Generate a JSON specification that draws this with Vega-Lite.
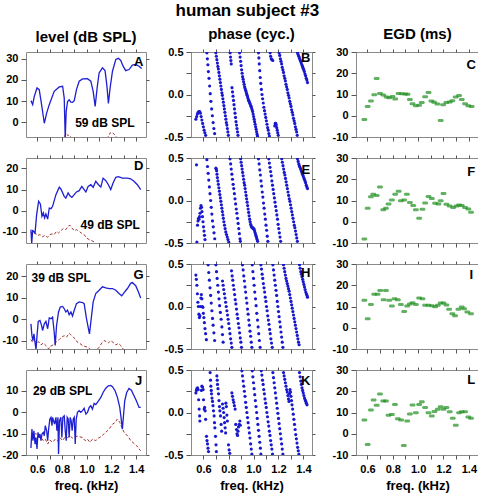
{
"$schema":"https://vega.github.io/schema/vega-lite/v6.json",
"padding":{"left":1,"right":0,"top":1,"bottom":0},
"title":{"text":"human subject #3","fontSize":17,"fontWeight":"bold","font":"Liberation Sans","anchor":"middle","offset":7,"dx":5},
"columns":3,
"spacing":{"row":21,"column":42},
"bounds":"flush",
"align":"all",
"datasets":{
"Ab":[{"f":0.550,"v":10.2},{"f":0.564,"v":8.3},{"f":0.577,"v":12.2},{"f":0.599,"v":16.2},{"f":0.617,"v":15.4},{"f":0.636,"v":8.3},{"f":0.658,"v":-0.5},{"f":0.677,"v":4.3},{"f":0.698,"v":8.3},{"f":0.738,"v":14.6},{"f":0.779,"v":16.7},{"f":0.806,"v":17.0},{"f":0.819,"v":11.4},{"f":0.827,"v":-7.5},{"f":0.835,"v":5.1},{"f":0.846,"v":9.8},{"f":0.859,"v":10.6},{"f":0.873,"v":9.5},{"f":0.886,"v":9.4},{"f":0.900,"v":10.2},{"f":0.918,"v":15.4},{"f":0.940,"v":19.4},{"f":0.967,"v":20.5},{"f":1.007,"v":20.6},{"f":1.034,"v":19.4},{"f":1.053,"v":14.6},{"f":1.069,"v":7.5},{"f":1.085,"v":16.2},{"f":1.101,"v":23.3},{"f":1.128,"v":25.7},{"f":1.149,"v":24.4},{"f":1.163,"v":17.8},{"f":1.176,"v":8.9},{"f":1.190,"v":16.2},{"f":1.209,"v":24.1},{"f":1.236,"v":29.7},{"f":1.257,"v":30.2},{"f":1.276,"v":29.2},{"f":1.295,"v":26.5},{"f":1.316,"v":24.4},{"f":1.343,"v":24.9},{"f":1.370,"v":27.0},{"f":1.397,"v":27.3},{"f":1.424,"v":26.5},{"f":1.445,"v":25.4}],
"Ar":[{"f":0.550,"v":-12},{"f":0.600,"v":-14},{"f":0.650,"v":-13},{"f":0.700,"v":-15},{"f":0.750,"v":-12},{"f":0.800,"v":-10},{"f":0.822,"v":-7.5},{"f":0.830,"v":-5.3},{"f":0.840,"v":-5.8},{"f":0.850,"v":-6.3},{"f":0.860,"v":-6.0},{"f":0.870,"v":-6.8},{"f":0.880,"v":-7.5},{"f":0.900,"v":-9},{"f":0.950,"v":-13},{"f":1.000,"v":-12},{"f":1.050,"v":-14},{"f":1.100,"v":-11},{"f":1.150,"v":-9},{"f":1.170,"v":-7.2},{"f":1.180,"v":-6.3},{"f":1.190,"v":-5.0},{"f":1.200,"v":-5.4},{"f":1.210,"v":-5.0},{"f":1.220,"v":-5.6},{"f":1.235,"v":-6.5},{"f":1.250,"v":-7.5},{"f":1.300,"v":-11},{"f":1.350,"v":-13},{"f":1.400,"v":-12},{"f":1.445,"v":-14}],
"Db":[{"f":0.550,"v":-8.9},{"f":0.556,"v":-15.5},{"f":0.564,"v":-9.4},{"f":0.572,"v":-9.7},{"f":0.583,"v":-10.5},{"f":0.596,"v":-1.8},{"f":0.612,"v":4.5},{"f":0.626,"v":3.2},{"f":0.639,"v":-2.6},{"f":0.650,"v":-1.0},{"f":0.660,"v":-3.4},{"f":0.671,"v":-1.5},{"f":0.685,"v":-3.9},{"f":0.698,"v":1.3},{"f":0.712,"v":1.0},{"f":0.725,"v":2.1},{"f":0.752,"v":7.6},{"f":0.779,"v":11.1},{"f":0.792,"v":10.3},{"f":0.819,"v":6.8},{"f":0.832,"v":6.0},{"f":0.851,"v":8.4},{"f":0.865,"v":7.1},{"f":0.881,"v":6.3},{"f":0.900,"v":7.6},{"f":0.918,"v":8.9},{"f":0.940,"v":9.5},{"f":0.961,"v":11.5},{"f":0.980,"v":10.0},{"f":0.994,"v":8.9},{"f":1.012,"v":11.5},{"f":1.034,"v":12.3},{"f":1.053,"v":11.1},{"f":1.074,"v":13.9},{"f":1.096,"v":12.3},{"f":1.115,"v":11.2},{"f":1.133,"v":15.4},{"f":1.155,"v":14.2},{"f":1.176,"v":12.3},{"f":1.195,"v":10.0},{"f":1.214,"v":13.1},{"f":1.236,"v":15.8},{"f":1.257,"v":16.1},{"f":1.289,"v":15.4},{"f":1.330,"v":15.4},{"f":1.356,"v":15.1},{"f":1.383,"v":13.9},{"f":1.410,"v":12.3},{"f":1.437,"v":10.0}],
"Dr":[{"f":0.550,"v":-10.0},{"f":0.564,"v":-11.2},{"f":0.585,"v":-10.5},{"f":0.604,"v":-11.7},{"f":0.623,"v":-11.2},{"f":0.644,"v":-12.3},{"f":0.663,"v":-11.6},{"f":0.685,"v":-12.5},{"f":0.703,"v":-11.2},{"f":0.725,"v":-10.9},{"f":0.738,"v":-11.2},{"f":0.757,"v":-9.7},{"f":0.773,"v":-10.5},{"f":0.792,"v":-9.4},{"f":0.811,"v":-8.4},{"f":0.832,"v":-8.9},{"f":0.851,"v":-7.3},{"f":0.865,"v":-6.8},{"f":0.881,"v":-8.1},{"f":0.900,"v":-9.4},{"f":0.918,"v":-8.9},{"f":0.940,"v":-9.7},{"f":0.959,"v":-10.6},{"f":0.980,"v":-11.2},{"f":0.999,"v":-12.8},{"f":1.021,"v":-13.6},{"f":1.042,"v":-14.1},{"f":1.061,"v":-14.7},{"f":1.074,"v":-15.6},{"f":1.150,"v":-18},{"f":1.250,"v":-20},{"f":1.350,"v":-19},{"f":1.445,"v":-21}],
"Gb":[{"f":0.550,"v":-2.2},{"f":0.558,"v":-7.7},{"f":0.566,"v":-10.0},{"f":0.574,"v":-6.9},{"f":0.583,"v":-10.8},{"f":0.591,"v":-14.2},{"f":0.599,"v":-7.7},{"f":0.609,"v":-1.1},{"f":0.623,"v":-0.6},{"f":0.636,"v":-3.0},{"f":0.644,"v":-5.3},{"f":0.658,"v":-2.2},{"f":0.671,"v":-1.1},{"f":0.685,"v":-4.5},{"f":0.698,"v":0.5},{"f":0.712,"v":0.2},{"f":0.725,"v":0.9},{"f":0.738,"v":-6.1},{"f":0.746,"v":-12.3},{"f":0.757,"v":-3.0},{"f":0.773,"v":3.3},{"f":0.787,"v":5.6},{"f":0.806,"v":5.9},{"f":0.819,"v":4.8},{"f":0.832,"v":3.3},{"f":0.846,"v":4.1},{"f":0.859,"v":2.0},{"f":0.873,"v":3.3},{"f":0.886,"v":1.4},{"f":0.900,"v":4.1},{"f":0.918,"v":7.2},{"f":0.940,"v":8.0},{"f":0.967,"v":7.7},{"f":0.980,"v":7.2},{"f":0.999,"v":0.2},{"f":1.015,"v":-4.5},{"f":1.023,"v":-6.9},{"f":1.034,"v":-1.4},{"f":1.053,"v":8.0},{"f":1.074,"v":11.9},{"f":1.101,"v":13.4},{"f":1.128,"v":15.0},{"f":1.155,"v":14.5},{"f":1.182,"v":14.2},{"f":1.209,"v":14.2},{"f":1.236,"v":13.4},{"f":1.262,"v":11.9},{"f":1.284,"v":10.8},{"f":1.303,"v":12.3},{"f":1.330,"v":14.2},{"f":1.356,"v":16.6},{"f":1.370,"v":17.0},{"f":1.397,"v":15.5},{"f":1.418,"v":12.7},{"f":1.437,"v":9.8}],
"Gr":[{"f":0.550,"v":-9.5},{"f":0.564,"v":-10.8},{"f":0.577,"v":-10.0},{"f":0.596,"v":-11.1},{"f":0.612,"v":-10.5},{"f":0.631,"v":-12.0},{"f":0.650,"v":-11.1},{"f":0.671,"v":-12.3},{"f":0.693,"v":-13.9},{"f":0.703,"v":-12.7},{"f":0.720,"v":-12.3},{"f":0.738,"v":-11.6},{"f":0.757,"v":-10.5},{"f":0.779,"v":-9.5},{"f":0.798,"v":-8.4},{"f":0.819,"v":-7.7},{"f":0.838,"v":-8.4},{"f":0.859,"v":-6.6},{"f":0.873,"v":-7.3},{"f":0.892,"v":-8.4},{"f":0.908,"v":-9.2},{"f":0.926,"v":-10.8},{"f":0.945,"v":-11.3},{"f":0.967,"v":-12.3},{"f":0.988,"v":-12.7},{"f":1.007,"v":-13.1},{"f":1.034,"v":-14.2},{"f":1.061,"v":-14.8},{"f":1.088,"v":-13.9},{"f":1.101,"v":-13.1},{"f":1.123,"v":-11.1},{"f":1.141,"v":-10.0},{"f":1.160,"v":-10.5},{"f":1.176,"v":-11.1},{"f":1.195,"v":-10.0},{"f":1.214,"v":-10.8},{"f":1.236,"v":-12.0},{"f":1.257,"v":-11.3},{"f":1.276,"v":-12.3},{"f":1.289,"v":-13.6},{"f":1.316,"v":-14.7},{"f":1.356,"v":-15.5},{"f":1.397,"v":-15.2},{"f":1.445,"v":-15.8}],
"Jb":[{"f":0.550,"v":-16.7},{"f":0.558,"v":-7.9},{"f":0.566,"v":-13.3},{"f":0.574,"v":-8.7},{"f":0.583,"v":-14.9},{"f":0.591,"v":-11.8},{"f":0.599,"v":-17.2},{"f":0.607,"v":-9.4},{"f":0.615,"v":-11.8},{"f":0.623,"v":-10.2},{"f":0.631,"v":-13.3},{"f":0.639,"v":-10.2},{"f":0.650,"v":-9.4},{"f":0.658,"v":-11.0},{"f":0.666,"v":-6.3},{"f":0.677,"v":-8.7},{"f":0.685,"v":-13.3},{"f":0.693,"v":-7.9},{"f":0.703,"v":-3.2},{"f":0.712,"v":-2.4},{"f":0.720,"v":-6.3},{"f":0.725,"v":-2.4},{"f":0.733,"v":-4.0},{"f":0.741,"v":-5.6},{"f":0.752,"v":-2.4},{"f":0.760,"v":-8.7},{"f":0.768,"v":-2.4},{"f":0.773,"v":-19.5},{"f":0.781,"v":-4.0},{"f":0.792,"v":-2.4},{"f":0.800,"v":-11.8},{"f":0.808,"v":-2.4},{"f":0.819,"v":-1.7},{"f":0.827,"v":-8.7},{"f":0.835,"v":-13.3},{"f":0.843,"v":-2.4},{"f":0.851,"v":-3.2},{"f":0.859,"v":-11.8},{"f":0.867,"v":-2.4},{"f":0.875,"v":-4.0},{"f":0.883,"v":-8.7},{"f":0.892,"v":-3.2},{"f":0.900,"v":-2.4},{"f":0.908,"v":-14.9},{"f":0.916,"v":-3.2},{"f":0.926,"v":-0.1},{"f":0.940,"v":0.7},{"f":0.953,"v":-0.1},{"f":0.967,"v":0.7},{"f":0.980,"v":1.8},{"f":0.994,"v":-0.9},{"f":1.007,"v":-0.1},{"f":1.021,"v":2.2},{"f":1.034,"v":3.0},{"f":1.047,"v":1.4},{"f":1.061,"v":4.1},{"f":1.074,"v":3.5},{"f":1.096,"v":5.3},{"f":1.115,"v":6.9},{"f":1.133,"v":9.2},{"f":1.155,"v":11.2},{"f":1.176,"v":12.3},{"f":1.195,"v":12.5},{"f":1.209,"v":11.9},{"f":1.230,"v":10.0},{"f":1.249,"v":6.9},{"f":1.268,"v":2.2},{"f":1.278,"v":-2.4},{"f":1.289,"v":-7.9},{"f":1.297,"v":-2.4},{"f":1.308,"v":5.3},{"f":1.324,"v":9.2},{"f":1.343,"v":11.1},{"f":1.362,"v":10.3},{"f":1.383,"v":7.7},{"f":1.402,"v":5.3},{"f":1.424,"v":2.2},{"f":1.437,"v":2.2}],
"Jr":[{"f":0.550,"v":-10.2},{"f":0.569,"v":-11.0},{"f":0.591,"v":-9.9},{"f":0.612,"v":-11.8},{"f":0.631,"v":-11.8},{"f":0.650,"v":-13.3},{"f":0.666,"v":-12.6},{"f":0.685,"v":-14.9},{"f":0.703,"v":-13.0},{"f":0.725,"v":-14.1},{"f":0.746,"v":-12.6},{"f":0.765,"v":-13.3},{"f":0.784,"v":-11.8},{"f":0.806,"v":-13.3},{"f":0.827,"v":-11.5},{"f":0.846,"v":-11.8},{"f":0.865,"v":-11.0},{"f":0.886,"v":-12.1},{"f":0.908,"v":-11.5},{"f":0.926,"v":-11.2},{"f":0.945,"v":-11.5},{"f":0.967,"v":-11.8},{"f":0.988,"v":-13.3},{"f":1.007,"v":-12.6},{"f":1.026,"v":-14.1},{"f":1.047,"v":-12.6},{"f":1.074,"v":-13.3},{"f":1.096,"v":-12.1},{"f":1.115,"v":-11.5},{"f":1.133,"v":-10.5},{"f":1.155,"v":-9.4},{"f":1.182,"v":-7.9},{"f":1.209,"v":-5.6},{"f":1.230,"v":-4.8},{"f":1.249,"v":-3.2},{"f":1.268,"v":-4.8},{"f":1.284,"v":-7.1},{"f":1.303,"v":-9.4},{"f":1.316,"v":-10.2},{"f":1.338,"v":-11.5},{"f":1.356,"v":-13.3},{"f":1.383,"v":-14.6},{"f":1.405,"v":-15.7},{"f":1.424,"v":-17.2},{"f":1.437,"v":-18.0}],
"B":[{"f":0.539,"v":-0.29},{"f":0.545,"v":-0.26},{"f":0.551,"v":-0.23},{"f":0.557,"v":-0.21},{"f":0.563,"v":-0.2},{"f":0.569,"v":-0.2},{"f":0.575,"v":-0.22},{"f":0.581,"v":-0.26},{"f":0.587,"v":-0.3},{"f":0.593,"v":-0.34},{"f":0.599,"v":-0.38},{"f":0.605,"v":-0.42},{"f":0.611,"v":-0.45},{"f":0.617,"v":-0.48},
{"f":0.627,"v":0.49},{"f":0.631,"v":0.42},{"f":0.635,"v":0.35},{"f":0.639,"v":0.27},{"f":0.644,"v":0.19},{"f":0.649,"v":0.1},{"f":0.654,"v":0.01},{"f":0.659,"v":-0.08},{"f":0.665,"v":-0.17},{"f":0.671,"v":-0.25},{"f":0.677,"v":-0.33},{"f":0.683,"v":-0.4},{"f":0.689,"v":-0.46},
{"f":0.699,"v":0.49},{"f":0.703,"v":0.45},{"f":0.707,"v":0.41},{"f":0.711,"v":0.37},{"f":0.715,"v":0.33},{"f":0.719,"v":0.3},{"f":0.723,"v":0.26},{"f":0.727,"v":0.22},{"f":0.731,"v":0.18},{"f":0.735,"v":0.14},{"f":0.739,"v":0.1},{"f":0.743,"v":0.06},{"f":0.747,"v":0.02},{"f":0.751,"v":-0.01},{"f":0.755,"v":-0.05},{"f":0.759,"v":-0.09},{"f":0.763,"v":-0.13},{"f":0.767,"v":-0.17},{"f":0.771,"v":-0.21},{"f":0.775,"v":-0.25},{"f":0.779,"v":-0.29},{"f":0.783,"v":-0.33},{"f":0.787,"v":-0.36},{"f":0.791,"v":-0.4},{"f":0.795,"v":-0.44},{"f":0.799,"v":-0.48},
{"f":0.813,"v":0.49},{"f":0.816,"v":0.44},{"f":0.819,"v":0.4},{"f":0.822,"v":0.36},{"f":0.828,"v":0.08},{"f":0.832,"v":0.03},{"f":0.836,"v":-0.02},{"f":0.84,"v":-0.07},{"f":0.844,"v":-0.12},{"f":0.848,"v":-0.17},{"f":0.852,"v":-0.22},{"f":0.856,"v":-0.27},{"f":0.86,"v":-0.32},{"f":0.864,"v":-0.36},{"f":0.868,"v":-0.4},{"f":0.872,"v":-0.44},{"f":0.876,"v":-0.48},
{"f":0.889,"v":0.49},{"f":0.893,"v":0.44},{"f":0.897,"v":0.39},{"f":0.901,"v":0.34},{"f":0.905,"v":0.29},{"f":0.909,"v":0.25},{"f":0.913,"v":0.21},{"f":0.917,"v":0.18},{"f":0.921,"v":0.15},{"f":0.925,"v":0.12},{"f":0.929,"v":0.09},{"f":0.933,"v":0.07},{"f":0.937,"v":0.05},{"f":0.941,"v":0.03},{"f":0.945,"v":0.01},{"f":0.949,"v":-0.01},{"f":0.953,"v":-0.03},{"f":0.957,"v":-0.05},{"f":0.961,"v":-0.07},{"f":0.965,"v":-0.08},{"f":0.969,"v":-0.1},{"f":0.973,"v":-0.11},{"f":0.977,"v":-0.13},{"f":0.981,"v":-0.14},{"f":0.985,"v":-0.16},{"f":0.989,"v":-0.18},{"f":0.993,"v":-0.2},{"f":0.997,"v":-0.23},{"f":1.001,"v":-0.26},{"f":1.005,"v":-0.29},{"f":1.009,"v":-0.32},{"f":1.013,"v":-0.35},{"f":1.017,"v":-0.38},{"f":1.021,"v":-0.41},{"f":1.025,"v":-0.44},{"f":1.029,"v":-0.47},{"f":1.032,"v":-0.49},
{"f":1.04,"v":0.49},{"f":1.043,"v":0.43},{"f":1.046,"v":0.36},{"f":1.05,"v":0.28},{"f":1.054,"v":0.2},{"f":1.058,"v":0.13},{"f":1.063,"v":0.06},{"f":1.068,"v":0.0},{"f":1.073,"v":-0.05},{"f":1.078,"v":-0.1},{"f":1.083,"v":-0.15},{"f":1.088,"v":-0.19},{"f":1.093,"v":-0.23},{"f":1.098,"v":-0.27},{"f":1.103,"v":-0.31},{"f":1.108,"v":-0.35},{"f":1.113,"v":-0.39},{"f":1.118,"v":-0.42},{"f":1.123,"v":-0.46},{"f":1.127,"v":-0.49},
{"f":1.133,"v":0.49},{"f":1.137,"v":0.45},{"f":1.142,"v":0.42},{"f":1.148,"v":0.41},{"f":1.154,"v":0.4},
{"f":1.17,"v":-0.37},{"f":1.174,"v":-0.34},{"f":1.178,"v":-0.34},{"f":1.182,"v":-0.36},{"f":1.186,"v":-0.39},{"f":1.19,"v":-0.42},{"f":1.194,"v":-0.45},{"f":1.198,"v":-0.48},
{"f":1.205,"v":0.49},{"f":1.21,"v":0.46},{"f":1.215,"v":0.42},{"f":1.22,"v":0.39},{"f":1.225,"v":0.36},{"f":1.23,"v":0.32},{"f":1.235,"v":0.29},{"f":1.24,"v":0.26},{"f":1.245,"v":0.22},{"f":1.25,"v":0.19},{"f":1.255,"v":0.16},{"f":1.26,"v":0.12},{"f":1.265,"v":0.09},{"f":1.27,"v":0.06},{"f":1.275,"v":0.02},{"f":1.28,"v":-0.01},{"f":1.285,"v":-0.04},{"f":1.29,"v":-0.08},{"f":1.295,"v":-0.11},{"f":1.3,"v":-0.14},{"f":1.305,"v":-0.18},{"f":1.31,"v":-0.21},{"f":1.315,"v":-0.24},{"f":1.32,"v":-0.28},{"f":1.325,"v":-0.31},{"f":1.33,"v":-0.34},{"f":1.335,"v":-0.38},{"f":1.34,"v":-0.41},{"f":1.345,"v":-0.44},{"f":1.35,"v":-0.48},
{"f":1.352,"v":0.49},{"f":1.357,"v":0.47},{"f":1.362,"v":0.45},{"f":1.367,"v":0.43},{"f":1.372,"v":0.41},{"f":1.377,"v":0.39},{"f":1.382,"v":0.37},{"f":1.387,"v":0.35},{"f":1.392,"v":0.33},{"f":1.397,"v":0.31},{"f":1.402,"v":0.29},{"f":1.407,"v":0.27},{"f":1.412,"v":0.24},{"f":1.417,"v":0.22},{"f":1.422,"v":0.19},{"f":1.427,"v":0.17},{"f":1.432,"v":0.14}],
"E":[{"f":0.544,"v":0.42},{"f":0.547,"v":-0.49},{"f":0.552,"v":-0.29},{"f":0.556,"v":-0.24},{"f":0.56,"v":-0.21},{"f":0.564,"v":-0.22},{"f":0.568,"v":-0.19},{"f":0.572,"v":-0.15},{"f":0.576,"v":-0.09},{"f":0.58,"v":-0.06},{"f":0.584,"v":-0.08},{"f":0.588,"v":-0.13},{"f":0.592,"v":-0.19},{"f":0.596,"v":-0.25},{"f":0.6,"v":-0.31},{"f":0.604,"v":-0.36},{"f":0.608,"v":-0.41},{"f":0.612,"v":-0.46},
{"f":0.627,"v":0.48},{"f":0.632,"v":0.4},{"f":0.637,"v":0.32},{"f":0.642,"v":0.24},{"f":0.647,"v":0.16},{"f":0.652,"v":0.08},{"f":0.657,"v":0.0},{"f":0.662,"v":-0.08},{"f":0.667,"v":-0.16},{"f":0.672,"v":-0.24},{"f":0.678,"v":-0.31},{"f":0.684,"v":-0.38},{"f":0.69,"v":-0.45},
{"f":0.699,"v":0.38},{"f":0.702,"v":0.37},{"f":0.705,"v":0.35},{"f":0.708,"v":0.31},{"f":0.711,"v":0.27},{"f":0.715,"v":0.23},{"f":0.719,"v":0.19},{"f":0.723,"v":0.15},{"f":0.727,"v":0.11},{"f":0.731,"v":0.07},{"f":0.735,"v":0.03},{"f":0.739,"v":-0.01},{"f":0.743,"v":-0.05},{"f":0.747,"v":-0.09},{"f":0.751,"v":-0.13},{"f":0.755,"v":-0.17},{"f":0.759,"v":-0.21},{"f":0.763,"v":-0.25},{"f":0.768,"v":-0.29},{"f":0.773,"v":-0.33},{"f":0.778,"v":-0.37},{"f":0.784,"v":-0.4},{"f":0.79,"v":-0.43},{"f":0.796,"v":-0.46},{"f":0.802,"v":-0.49},
{"f":0.812,"v":0.49},{"f":0.817,"v":0.43},{"f":0.822,"v":0.37},{"f":0.827,"v":0.31},{"f":0.832,"v":0.25},{"f":0.837,"v":0.19},{"f":0.842,"v":0.14},{"f":0.847,"v":0.08},{"f":0.852,"v":0.02},{"f":0.857,"v":-0.04},{"f":0.862,"v":-0.1},{"f":0.867,"v":-0.15},{"f":0.872,"v":-0.21},{"f":0.877,"v":-0.27},{"f":0.882,"v":-0.33},{"f":0.887,"v":-0.39},{"f":0.892,"v":-0.45},{"f":0.895,"v":-0.48},
{"f":0.897,"v":0.49},{"f":0.901,"v":0.45},{"f":0.905,"v":0.41},{"f":0.909,"v":0.37},{"f":0.913,"v":0.33},{"f":0.917,"v":0.29},{"f":0.921,"v":0.25},{"f":0.925,"v":0.21},{"f":0.929,"v":0.18},{"f":0.933,"v":0.14},{"f":0.937,"v":0.1},{"f":0.941,"v":0.06},{"f":0.945,"v":0.02},{"f":0.949,"v":-0.02},{"f":0.953,"v":-0.06},{"f":0.957,"v":-0.1},{"f":0.961,"v":-0.14},{"f":0.965,"v":-0.18},{"f":0.969,"v":-0.22},{"f":0.973,"v":-0.25},{"f":0.977,"v":-0.28},{"f":0.981,"v":-0.3},{"f":0.985,"v":-0.31},{"f":0.989,"v":-0.32},{"f":0.993,"v":-0.32},{"f":0.997,"v":-0.33},{"f":1.001,"v":-0.33},{"f":1.005,"v":-0.34},{"f":1.009,"v":-0.36},{"f":1.013,"v":-0.38},{"f":1.017,"v":-0.4},{"f":1.021,"v":-0.42},{"f":1.025,"v":-0.44},{"f":1.029,"v":-0.46},{"f":1.033,"v":-0.48},
{"f":1.04,"v":0.49},{"f":1.045,"v":0.43},{"f":1.05,"v":0.36},{"f":1.055,"v":0.3},{"f":1.06,"v":0.23},{"f":1.065,"v":0.17},{"f":1.07,"v":0.1},{"f":1.075,"v":0.04},{"f":1.08,"v":-0.03},{"f":1.085,"v":-0.09},{"f":1.09,"v":-0.16},{"f":1.095,"v":-0.22},{"f":1.1,"v":-0.29},{"f":1.105,"v":-0.35},{"f":1.11,"v":-0.42},{"f":1.115,"v":-0.48},
{"f":1.122,"v":0.49},{"f":1.127,"v":0.44},{"f":1.132,"v":0.39},{"f":1.137,"v":0.34},{"f":1.142,"v":0.29},{"f":1.147,"v":0.23},{"f":1.152,"v":0.18},{"f":1.157,"v":0.13},{"f":1.162,"v":0.08},{"f":1.167,"v":0.03},{"f":1.172,"v":-0.02},{"f":1.177,"v":-0.07},{"f":1.182,"v":-0.12},{"f":1.187,"v":-0.17},{"f":1.192,"v":-0.22},{"f":1.197,"v":-0.28},{"f":1.202,"v":-0.33},{"f":1.207,"v":-0.38},{"f":1.212,"v":-0.43},{"f":1.217,"v":-0.48},
{"f":1.226,"v":0.49},{"f":1.231,"v":0.45},{"f":1.236,"v":0.41},{"f":1.241,"v":0.37},{"f":1.246,"v":0.33},{"f":1.251,"v":0.3},{"f":1.256,"v":0.26},{"f":1.261,"v":0.22},{"f":1.266,"v":0.18},{"f":1.271,"v":0.14},{"f":1.276,"v":0.1},{"f":1.281,"v":0.06},{"f":1.286,"v":0.02},{"f":1.291,"v":-0.01},{"f":1.296,"v":-0.05},{"f":1.301,"v":-0.09},{"f":1.306,"v":-0.13},{"f":1.311,"v":-0.17},{"f":1.316,"v":-0.21},{"f":1.321,"v":-0.25},{"f":1.326,"v":-0.29},{"f":1.331,"v":-0.32},{"f":1.336,"v":-0.36},{"f":1.341,"v":-0.4},{"f":1.346,"v":-0.44},{"f":1.351,"v":-0.48},
{"f":1.352,"v":0.49},{"f":1.357,"v":0.46},{"f":1.362,"v":0.43},{"f":1.367,"v":0.41},{"f":1.372,"v":0.39},{"f":1.377,"v":0.37},{"f":1.382,"v":0.35},{"f":1.387,"v":0.33},{"f":1.392,"v":0.31},{"f":1.397,"v":0.29},{"f":1.402,"v":0.27},{"f":1.407,"v":0.25},{"f":1.412,"v":0.23},{"f":1.417,"v":0.21},{"f":1.422,"v":0.18},{"f":1.427,"v":0.16},{"f":1.432,"v":0.14}],
"H":[{"f":0.539,"v":0.37},{"f":0.543,"v":0.32},{"f":0.547,"v":0.25},{"f":0.551,"v":0.15},{"f":0.555,"v":0.05},{"f":0.559,"v":0.0},{"f":0.563,"v":-0.09},{"f":0.567,"v":-0.13},{"f":0.571,"v":-0.11},{"f":0.575,"v":0.0},{"f":0.579,"v":0.1},{"f":0.583,"v":0.14},{"f":0.587,"v":0.09},{"f":0.591,"v":0.0},{"f":0.595,"v":-0.01},{"f":0.599,"v":-0.08},{"f":0.603,"v":-0.13},{"f":0.607,"v":-0.19},{"f":0.612,"v":-0.26},{"f":0.617,"v":-0.32},{"f":0.623,"v":-0.39},
{"f":0.637,"v":0.49},{"f":0.642,"v":0.4},{"f":0.647,"v":0.31},{"f":0.652,"v":0.22},{"f":0.657,"v":0.13},{"f":0.662,"v":0.04},{"f":0.667,"v":-0.05},{"f":0.672,"v":-0.14},{"f":0.677,"v":-0.22},{"f":0.683,"v":-0.31},{"f":0.689,"v":-0.4},
{"f":0.699,"v":0.49},{"f":0.704,"v":0.41},{"f":0.709,"v":0.33},{"f":0.714,"v":0.25},{"f":0.719,"v":0.17},{"f":0.724,"v":0.09},{"f":0.729,"v":0.01},{"f":0.735,"v":-0.07},{"f":0.741,"v":-0.15},{"f":0.747,"v":-0.24},{"f":0.752,"v":-0.33},{"f":0.757,"v":-0.42},
{"f":0.752,"v":0.3},{"f":0.757,"v":0.25},{"f":0.762,"v":0.2},{"f":0.767,"v":0.15},{"f":0.772,"v":0.1},{"f":0.777,"v":0.05},{"f":0.782,"v":0.0},{"f":0.787,"v":-0.05},{"f":0.792,"v":-0.1},{"f":0.797,"v":-0.15},{"f":0.802,"v":-0.2},{"f":0.807,"v":-0.26},{"f":0.812,"v":-0.32},{"f":0.817,"v":-0.38},{"f":0.822,"v":-0.43},{"f":0.827,"v":-0.48},
{"f":0.824,"v":0.42},{"f":0.829,"v":0.36},{"f":0.834,"v":0.31},{"f":0.839,"v":0.25},{"f":0.844,"v":0.2},{"f":0.849,"v":0.14},{"f":0.854,"v":0.08},{"f":0.859,"v":0.03},{"f":0.864,"v":-0.03},{"f":0.869,"v":-0.09},{"f":0.874,"v":-0.14},{"f":0.879,"v":-0.2},{"f":0.884,"v":-0.25},{"f":0.889,"v":-0.31},{"f":0.894,"v":-0.37},{"f":0.899,"v":-0.42},{"f":0.904,"v":-0.48},
{"f":0.912,"v":0.49},{"f":0.917,"v":0.43},{"f":0.922,"v":0.36},{"f":0.927,"v":0.3},{"f":0.932,"v":0.23},{"f":0.937,"v":0.17},{"f":0.942,"v":0.1},{"f":0.947,"v":0.04},{"f":0.952,"v":-0.03},{"f":0.957,"v":-0.09},{"f":0.962,"v":-0.16},{"f":0.967,"v":-0.22},{"f":0.972,"v":-0.29},{"f":0.977,"v":-0.35},{"f":0.982,"v":-0.42},{"f":0.987,"v":-0.48},
{"f":0.99,"v":0.49},{"f":0.995,"v":0.41},{"f":1.0,"v":0.33},{"f":1.005,"v":0.25},{"f":1.01,"v":0.17},{"f":1.016,"v":0.09},{"f":1.021,"v":0.01},{"f":1.026,"v":-0.08},{"f":1.032,"v":-0.16},{"f":1.037,"v":-0.24},{"f":1.042,"v":-0.32},{"f":1.047,"v":-0.4},{"f":1.053,"v":-0.48},
{"f":1.059,"v":0.49},{"f":1.064,"v":0.44},{"f":1.069,"v":0.38},{"f":1.074,"v":0.33},{"f":1.079,"v":0.27},{"f":1.084,"v":0.22},{"f":1.089,"v":0.17},{"f":1.094,"v":0.11},{"f":1.099,"v":0.06},{"f":1.104,"v":0.0},{"f":1.109,"v":-0.05},{"f":1.114,"v":-0.11},{"f":1.119,"v":-0.16},{"f":1.124,"v":-0.21},{"f":1.129,"v":-0.27},{"f":1.134,"v":-0.32},{"f":1.139,"v":-0.38},{"f":1.144,"v":-0.43},{"f":1.15,"v":-0.48},
{"f":1.155,"v":0.49},{"f":1.16,"v":0.43},{"f":1.165,"v":0.37},{"f":1.17,"v":0.31},{"f":1.175,"v":0.25},{"f":1.18,"v":0.19},{"f":1.185,"v":0.13},{"f":1.19,"v":0.06},{"f":1.195,"v":0.0},{"f":1.2,"v":-0.06},{"f":1.205,"v":-0.12},{"f":1.21,"v":-0.18},{"f":1.215,"v":-0.24},{"f":1.22,"v":-0.3},{"f":1.225,"v":-0.36},{"f":1.23,"v":-0.42},{"f":1.235,"v":-0.48},
{"f":1.24,"v":0.49},{"f":1.245,"v":0.45},{"f":1.25,"v":0.41},{"f":1.255,"v":0.37},{"f":1.26,"v":0.33},{"f":1.265,"v":0.3},{"f":1.27,"v":0.27},{"f":1.275,"v":0.24},{"f":1.28,"v":0.21},{"f":1.285,"v":0.18},{"f":1.29,"v":0.14},{"f":1.295,"v":0.1},{"f":1.3,"v":0.06},{"f":1.305,"v":0.02},{"f":1.31,"v":-0.02},{"f":1.315,"v":-0.06},{"f":1.32,"v":-0.1},{"f":1.325,"v":-0.14},{"f":1.33,"v":-0.18},{"f":1.335,"v":-0.22},{"f":1.34,"v":-0.26},{"f":1.345,"v":-0.3},{"f":1.35,"v":-0.34},{"f":1.355,"v":-0.38},{"f":1.36,"v":-0.42},{"f":1.365,"v":-0.45},
{"f":1.368,"v":0.49},{"f":1.373,"v":0.45},{"f":1.378,"v":0.41},{"f":1.383,"v":0.38},{"f":1.388,"v":0.35},{"f":1.393,"v":0.32},{"f":1.398,"v":0.29},{"f":1.403,"v":0.26},{"f":1.408,"v":0.23},{"f":1.413,"v":0.2},{"f":1.418,"v":0.17},{"f":1.423,"v":0.15},{"f":1.428,"v":0.13},{"f":1.432,"v":0.11}],
"K":[{"f":0.539,"v":0.23},{"f":0.543,"v":0.26},{"f":0.547,"v":0.28},{"f":0.552,"v":0.29},{"f":0.557,"v":0.27},{"f":0.561,"v":0.15},{"f":0.565,"v":0.04},{"f":0.569,"v":-0.04},{"f":0.571,"v":-0.1},
{"f":0.583,"v":0.26},{"f":0.587,"v":0.31},{"f":0.592,"v":0.3},{"f":0.597,"v":0.27},{"f":0.6,"v":0.15},{"f":0.605,"v":0.04},{"f":0.609,"v":0.06},{"f":0.613,"v":0.02},{"f":0.617,"v":-0.08},
{"f":0.624,"v":-0.28},{"f":0.628,"v":-0.33},{"f":0.632,"v":-0.37},{"f":0.636,"v":-0.42},{"f":0.64,"v":-0.46},
{"f":0.653,"v":0.47},{"f":0.656,"v":0.38},{"f":0.659,"v":0.31},{"f":0.662,"v":0.26},{"f":0.664,"v":0.22},{"f":0.668,"v":0.17},{"f":0.672,"v":0.13},{"f":0.676,"v":0.08},{"f":0.68,"v":0.02},{"f":0.685,"v":-0.04},{"f":0.688,"v":-0.12},{"f":0.691,"v":-0.18},
{"f":0.696,"v":-0.28},{"f":0.7,"v":-0.38},{"f":0.703,"v":-0.46},
{"f":0.707,"v":0.43},{"f":0.71,"v":0.38},{"f":0.712,"v":0.33},{"f":0.716,"v":0.28},{"f":0.72,"v":0.22},{"f":0.724,"v":0.14},{"f":0.728,"v":0.07},{"f":0.731,"v":0.02},{"f":0.736,"v":-0.04},{"f":0.741,"v":-0.14},{"f":0.745,"v":-0.22},
{"f":0.752,"v":0.1},{"f":0.757,"v":0.05},{"f":0.761,"v":0.0},{"f":0.765,"v":-0.06},{"f":0.769,"v":-0.12},{"f":0.773,"v":-0.18},{"f":0.777,"v":-0.24},{"f":0.779,"v":0.11},{"f":0.783,"v":0.07},{"f":0.787,"v":-0.03},{"f":0.791,"v":-0.1},
{"f":0.8,"v":-0.38},{"f":0.805,"v":-0.44},{"f":0.81,"v":-0.48},
{"f":0.827,"v":0.23},{"f":0.832,"v":0.19},{"f":0.837,"v":0.15},{"f":0.842,"v":0.12},{"f":0.847,"v":0.08},{"f":0.853,"v":0.04},
{"f":0.858,"v":-0.14},{"f":0.864,"v":-0.2},{"f":0.868,"v":-0.25},{"f":0.872,"v":-0.27},{"f":0.876,"v":-0.22},{"f":0.88,"v":-0.17},{"f":0.886,"v":-0.14},{"f":0.891,"v":-0.1},{"f":0.895,"v":-0.15},
{"f":0.907,"v":0.49},{"f":0.912,"v":0.43},{"f":0.917,"v":0.37},{"f":0.922,"v":0.31},{"f":0.927,"v":0.25},{"f":0.932,"v":0.19},{"f":0.937,"v":0.12},{"f":0.942,"v":0.06},{"f":0.947,"v":0.0},{"f":0.952,"v":-0.06},{"f":0.957,"v":-0.12},{"f":0.962,"v":-0.18},{"f":0.967,"v":-0.24},{"f":0.972,"v":-0.3},{"f":0.977,"v":-0.37},{"f":0.982,"v":-0.43},{"f":0.987,"v":-0.49},
{"f":0.99,"v":0.49},{"f":0.995,"v":0.42},{"f":1.0,"v":0.35},{"f":1.005,"v":0.28},{"f":1.01,"v":0.21},{"f":1.015,"v":0.14},{"f":1.02,"v":0.07},{"f":1.025,"v":0.0},{"f":1.03,"v":-0.07},{"f":1.035,"v":-0.14},{"f":1.04,"v":-0.21},{"f":1.045,"v":-0.28},{"f":1.05,"v":-0.35},{"f":1.055,"v":-0.42},{"f":1.059,"v":-0.49},
{"f":1.062,"v":0.49},{"f":1.067,"v":0.44},{"f":1.072,"v":0.38},{"f":1.077,"v":0.33},{"f":1.082,"v":0.27},{"f":1.087,"v":0.22},{"f":1.092,"v":0.16},{"f":1.097,"v":0.11},{"f":1.102,"v":0.06},{"f":1.107,"v":0.0},{"f":1.112,"v":-0.05},{"f":1.117,"v":-0.11},{"f":1.122,"v":-0.16},{"f":1.127,"v":-0.22},{"f":1.132,"v":-0.27},{"f":1.137,"v":-0.33},{"f":1.142,"v":-0.38},{"f":1.147,"v":-0.43},{"f":1.152,"v":-0.49},
{"f":1.155,"v":0.47},{"f":1.16,"v":0.41},{"f":1.165,"v":0.35},{"f":1.17,"v":0.29},{"f":1.175,"v":0.23},{"f":1.18,"v":0.17},{"f":1.185,"v":0.11},{"f":1.19,"v":0.05},{"f":1.195,"v":-0.01},{"f":1.2,"v":-0.07},{"f":1.205,"v":-0.13},{"f":1.21,"v":-0.19},{"f":1.215,"v":-0.25},{"f":1.22,"v":-0.31},{"f":1.225,"v":-0.37},{"f":1.23,"v":-0.43},{"f":1.235,"v":-0.49},
{"f":1.24,"v":0.47},{"f":1.245,"v":0.43},{"f":1.25,"v":0.39},{"f":1.255,"v":0.35},{"f":1.26,"v":0.31},{"f":1.265,"v":0.27},{"f":1.27,"v":0.24},{"f":1.275,"v":0.2},{"f":1.28,"v":0.16},{"f":1.284,"v":0.13},{"f":1.288,"v":0.22},{"f":1.292,"v":0.27},{"f":1.296,"v":0.24},{"f":1.3,"v":0.19},{"f":1.304,"v":0.14},{"f":1.308,"v":0.09},{"f":1.313,"v":0.04},{"f":1.318,"v":-0.02},{"f":1.323,"v":-0.08},{"f":1.328,"v":-0.14},{"f":1.333,"v":-0.2},{"f":1.338,"v":-0.26},{"f":1.343,"v":-0.31},{"f":1.348,"v":-0.36},{"f":1.353,"v":-0.41},{"f":1.358,"v":-0.45},{"f":1.363,"v":-0.49},
{"f":1.368,"v":0.47},{"f":1.373,"v":0.42},{"f":1.378,"v":0.37},{"f":1.383,"v":0.33},{"f":1.388,"v":0.29},{"f":1.393,"v":0.26},{"f":1.398,"v":0.23},{"f":1.403,"v":0.2},{"f":1.408,"v":0.17},{"f":1.413,"v":0.15},{"f":1.418,"v":0.13},{"f":1.423,"v":0.11},{"f":1.428,"v":0.09}],
"C":[{"f":0.576,"v":-1.8},{"f":0.602,"v":4.4},{"f":0.628,"v":6.9},{"f":0.654,"v":9.9},{"f":0.673,"v":17.5},{"f":0.699,"v":10.5},{"f":0.725,"v":9.8},{"f":0.751,"v":8.8},{"f":0.772,"v":8.5},{"f":0.798,"v":9.1},{"f":0.819,"v":7.9},{"f":0.846,"v":10.5},{"f":0.872,"v":10.4},{"f":0.898,"v":10.2},{"f":0.916,"v":10.1},{"f":0.935,"v":7.6},{"f":0.956,"v":5.7},{"f":0.982,"v":4.7},{"f":1.008,"v":4.9},{"f":1.029,"v":6.2},{"f":1.055,"v":9.0},{"f":1.082,"v":10.9},{"f":1.105,"v":6.9},{"f":1.126,"v":6.3},{"f":1.152,"v":5.5},{"f":1.178,"v":-2.2},{"f":1.197,"v":5.2},{"f":1.223,"v":6.2},{"f":1.249,"v":6.5},{"f":1.27,"v":7.1},{"f":1.296,"v":8.8},{"f":1.323,"v":9.5},{"f":1.344,"v":7.6},{"f":1.37,"v":5.7},{"f":1.396,"v":4.7},{"f":1.422,"v":4.4}],
"F":[{"f":0.576,"v":-8.1},{"f":0.602,"v":6.3},{"f":0.628,"v":11.8},{"f":0.646,"v":12.9},{"f":0.673,"v":12.3},{"f":0.699,"v":16.3},{"f":0.725,"v":5.6},{"f":0.746,"v":6.3},{"f":0.767,"v":8.4},{"f":0.793,"v":10.2},{"f":0.819,"v":12.9},{"f":0.846,"v":14.4},{"f":0.864,"v":9.9},{"f":0.89,"v":10.2},{"f":0.911,"v":12.9},{"f":0.935,"v":9.1},{"f":0.961,"v":7.6},{"f":0.982,"v":5.6},{"f":1.008,"v":1.7},{"f":1.034,"v":5.9},{"f":1.055,"v":8.8},{"f":1.082,"v":11.9},{"f":1.108,"v":11.0},{"f":1.134,"v":8.7},{"f":1.16,"v":8.4},{"f":1.178,"v":9.9},{"f":1.2,"v":13.3},{"f":1.223,"v":8.2},{"f":1.249,"v":7.4},{"f":1.276,"v":6.7},{"f":1.302,"v":7.4},{"f":1.323,"v":7.9},{"f":1.344,"v":7.6},{"f":1.37,"v":6.7},{"f":1.396,"v":6.0},{"f":1.417,"v":4.5}],
"I":[{"f":0.576,"v":12.9},{"f":0.602,"v":4.2},{"f":0.628,"v":11.0},{"f":0.654,"v":15.8},{"f":0.68,"v":15.8},{"f":0.701,"v":17.5},{"f":0.728,"v":13.2},{"f":0.746,"v":17.5},{"f":0.772,"v":12.9},{"f":0.793,"v":10.2},{"f":0.814,"v":13.7},{"f":0.84,"v":13.2},{"f":0.864,"v":10.9},{"f":0.89,"v":7.7},{"f":0.914,"v":10.2},{"f":0.935,"v":11.2},{"f":0.956,"v":11.8},{"f":0.982,"v":10.9},{"f":1.008,"v":14.0},{"f":1.034,"v":13.7},{"f":1.055,"v":10.6},{"f":1.082,"v":10.6},{"f":1.108,"v":10.4},{"f":1.134,"v":9.9},{"f":1.155,"v":10.6},{"f":1.178,"v":11.7},{"f":1.2,"v":11.7},{"f":1.223,"v":10.7},{"f":1.244,"v":8.7},{"f":1.27,"v":6.6},{"f":1.291,"v":5.7},{"f":1.318,"v":8.7},{"f":1.344,"v":9.8},{"f":1.362,"v":9.0},{"f":1.388,"v":7.4},{"f":1.417,"v":6.6}],
"L":[{"f":0.576,"v":6.5},{"f":0.602,"v":-5.0},{"f":0.628,"v":11.2},{"f":0.649,"v":15.9},{"f":0.673,"v":13.4},{"f":0.699,"v":18.7},{"f":0.725,"v":15.4},{"f":0.746,"v":15.4},{"f":0.767,"v":8.7},{"f":0.793,"v":9.1},{"f":0.817,"v":13.8},{"f":0.84,"v":7.1},{"f":0.866,"v":6.5},{"f":0.887,"v":-5.5},{"f":0.914,"v":6.0},{"f":0.935,"v":9.3},{"f":0.956,"v":13.5},{"f":0.982,"v":9.9},{"f":1.008,"v":13.8},{"f":1.029,"v":15.1},{"f":1.055,"v":12.3},{"f":1.082,"v":9.9},{"f":1.108,"v":8.4},{"f":1.129,"v":10.5},{"f":1.155,"v":11.5},{"f":1.178,"v":12.7},{"f":1.2,"v":11.5},{"f":1.223,"v":12.3},{"f":1.249,"v":10.4},{"f":1.273,"v":7.3},{"f":1.297,"v":4.0},{"f":1.323,"v":9.9},{"f":1.344,"v":10.4},{"f":1.37,"v":10.4},{"f":1.396,"v":7.9},{"f":1.417,"v":7.3}]
},
"concat":[
{"width":120,"height":85,"title":{"text":"level (dB SPL)"},"resolve":{"axis":{"x":"independent","y":"independent"}},"layer":[
{"data":{"name":"Ar"},"mark":{"type":"line","color":"#a5342c","strokeWidth":1,"strokeDash":[3,2],"clip":true},"encoding":{"x":{"field":"f","type":"quantitative","scale":{"domain":[0.51,1.48],"nice":false,"zero":false},"axis":{"orient":"bottom","values":[0.6,0.7,0.8,0.9,1.0,1.1,1.2,1.3,1.4],"labels":false,"title":null,"tickSize":4}},"y":{"field":"v","type":"quantitative","scale":{"domain":[-7,33.2],"nice":false,"zero":false},"axis":{"orient":"left","values":[0,10,20,30],"labelExpr":"''+datum.value","title":null,"tickSize":5}}}},
{"data":{"name":"Ab"},"mark":{"type":"line","color":"#1f1fd2","strokeWidth":1.3,"clip":true},"encoding":{"x":{"field":"f","type":"quantitative","axis":null},"y":{"field":"v","type":"quantitative","axis":null}}},
{"data":{"name":"Ab"},"mark":{"type":"point","opacity":0},"encoding":{"x":{"field":"f","type":"quantitative","axis":{"orient":"top","values":[0.6,0.7,0.8,0.9,1.0,1.1,1.2,1.3,1.4],"labels":false,"title":null,"tickSize":3}},"y":{"field":"v","type":"quantitative","axis":{"orient":"right","values":[0,10,20,30],"labels":false,"title":null,"tickSize":3}}}},
{"data":{"values":[{"f":1.42,"v":28.6,"t":"A"}]},"mark":{"type":"text","fontSize":13,"fontWeight":"bold","font":"Liberation Sans"},"encoding":{"x":{"field":"f","type":"quantitative","axis":null},"y":{"field":"v","type":"quantitative","axis":null},"text":{"field":"t"}}},
{"data":{"values":[{"f":1.147,"v":-0.3,"t":"59 dB SPL"}]},"mark":{"type":"text","fontSize":12,"fontWeight":"bold","font":"Liberation Sans"},"encoding":{"x":{"field":"f","type":"quantitative","axis":null},"y":{"field":"v","type":"quantitative","axis":null},"text":{"field":"t"}}}
]},
{"width":121,"height":85,"title":{"text":"phase (cyc.)"},"resolve":{"axis":{"x":"independent","y":"independent"}},"layer":[
{"data":{"name":"B"},"mark":{"type":"circle","size":10,"color":"#1818cc","opacity":1,"clip":true},"encoding":{"x":{"field":"f","type":"quantitative","scale":{"domain":[0.5,1.468],"nice":false,"zero":false},"axis":{"orient":"bottom","values":[0.6,0.7,0.8,0.9,1.0,1.1,1.2,1.3,1.4],"labels":false,"title":null,"tickSize":4}},"y":{"field":"v","type":"quantitative","scale":{"domain":[-0.5,0.5],"nice":false,"zero":false},"axis":{"orient":"left","values":[-0.5,-0.25,0,0.25,0.5],"labelExpr":"datum.value==0.5?'0.5':datum.value==0?'0.0':datum.value==-0.5?'-0.5':''","title":null,"tickSize":5}}}},
{"data":{"name":"B"},"mark":{"type":"point","opacity":0},"encoding":{"x":{"field":"f","type":"quantitative","axis":{"orient":"top","values":[0.6,0.7,0.8,0.9,1.0,1.1,1.2,1.3,1.4],"labels":false,"title":null,"tickSize":3}},"y":{"field":"v","type":"quantitative","axis":{"orient":"right","values":[-0.5,-0.25,0,0.25,0.5],"labels":false,"title":null,"tickSize":3}}}},
{"data":{"values":[{"f":1.418,"v":0.43,"t":"B"}]},"mark":{"type":"text","fontSize":13,"fontWeight":"bold","font":"Liberation Sans"},"encoding":{"x":{"field":"f","type":"quantitative","axis":null},"y":{"field":"v","type":"quantitative","axis":null},"text":{"field":"t"}}}
]},
{"width":123,"height":85,"title":{"text":"EGD (ms)"},"resolve":{"axis":{"x":"independent","y":"independent"}},"layer":[
{"data":{"name":"C"},"mark":{"type":"tick","orient":"horizontal","size":6,"thickness":3,"color":"#1f8f1f","cornerRadius":1.5,"clip":true},"encoding":{"x":{"field":"f","type":"quantitative","scale":{"domain":[0.51,1.48],"nice":false,"zero":false},"axis":{"orient":"bottom","values":[0.6,0.7,0.8,0.9,1.0,1.1,1.2,1.3,1.4],"labels":false,"title":null,"tickSize":4}},"y":{"field":"v","type":"quantitative","scale":{"domain":[-10,30],"nice":false,"zero":false},"axis":{"orient":"left","values":[-10,0,10,20,30],"labelExpr":"''+datum.value","title":null,"tickSize":5}}}},
{"data":{"name":"C"},"mark":{"type":"point","opacity":0},"encoding":{"x":{"field":"f","type":"quantitative","axis":{"orient":"top","values":[0.6,0.7,0.8,0.9,1.0,1.1,1.2,1.3,1.4],"labels":false,"title":null,"tickSize":3}},"y":{"field":"v","type":"quantitative","axis":{"orient":"right","values":[-10,0,10,20,30],"labels":false,"title":null,"tickSize":3}}}},
{"data":{"values":[{"f":1.419,"v":23.7,"t":"C"}]},"mark":{"type":"text","fontSize":13,"fontWeight":"bold","font":"Liberation Sans"},"encoding":{"x":{"field":"f","type":"quantitative","axis":null},"y":{"field":"v","type":"quantitative","axis":null},"text":{"field":"t"}}}
]},
{"width":120,"height":85,"resolve":{"axis":{"x":"independent","y":"independent"}},"layer":[
{"data":{"name":"Dr"},"mark":{"type":"line","color":"#a5342c","strokeWidth":1,"strokeDash":[3,2],"clip":true},"encoding":{"x":{"field":"f","type":"quantitative","scale":{"domain":[0.51,1.48],"nice":false,"zero":false},"axis":{"orient":"bottom","values":[0.6,0.7,0.8,0.9,1.0,1.1,1.2,1.3,1.4],"labels":false,"title":null,"tickSize":4}},"y":{"field":"v","type":"quantitative","scale":{"domain":[-15.2,24.9],"nice":false,"zero":false},"axis":{"orient":"left","values":[-10,0,10,20],"labelExpr":"''+datum.value","title":null,"tickSize":5}}}},
{"data":{"name":"Db"},"mark":{"type":"line","color":"#1f1fd2","strokeWidth":1.3,"clip":true},"encoding":{"x":{"field":"f","type":"quantitative","axis":null},"y":{"field":"v","type":"quantitative","axis":null}}},
{"data":{"name":"Db"},"mark":{"type":"point","opacity":0},"encoding":{"x":{"field":"f","type":"quantitative","axis":{"orient":"top","values":[0.6,0.7,0.8,0.9,1.0,1.1,1.2,1.3,1.4],"labels":false,"title":null,"tickSize":3}},"y":{"field":"v","type":"quantitative","axis":{"orient":"right","values":[-10,0,10,20],"labels":false,"title":null,"tickSize":3}}}},
{"data":{"values":[{"f":1.42,"v":21,"t":"D"}]},"mark":{"type":"text","fontSize":13,"fontWeight":"bold","font":"Liberation Sans"},"encoding":{"x":{"field":"f","type":"quantitative","axis":null},"y":{"field":"v","type":"quantitative","axis":null},"text":{"field":"t"}}},
{"data":{"values":[{"f":1.191,"v":-6.5,"t":"49 dB SPL"}]},"mark":{"type":"text","fontSize":12,"fontWeight":"bold","font":"Liberation Sans"},"encoding":{"x":{"field":"f","type":"quantitative","axis":null},"y":{"field":"v","type":"quantitative","axis":null},"text":{"field":"t"}}}
]},
{"width":121,"height":85,"resolve":{"axis":{"x":"independent","y":"independent"}},"layer":[
{"data":{"name":"E"},"mark":{"type":"circle","size":10,"color":"#1818cc","opacity":1,"clip":true},"encoding":{"x":{"field":"f","type":"quantitative","scale":{"domain":[0.5,1.468],"nice":false,"zero":false},"axis":{"orient":"bottom","values":[0.6,0.7,0.8,0.9,1.0,1.1,1.2,1.3,1.4],"labels":false,"title":null,"tickSize":4}},"y":{"field":"v","type":"quantitative","scale":{"domain":[-0.5,0.5],"nice":false,"zero":false},"axis":{"orient":"left","values":[-0.5,-0.25,0,0.25,0.5],"labelExpr":"datum.value==0.5?'0.5':datum.value==0?'0.0':datum.value==-0.5?'-0.5':''","title":null,"tickSize":5}}}},
{"data":{"name":"E"},"mark":{"type":"point","opacity":0},"encoding":{"x":{"field":"f","type":"quantitative","axis":{"orient":"top","values":[0.6,0.7,0.8,0.9,1.0,1.1,1.2,1.3,1.4],"labels":false,"title":null,"tickSize":3}},"y":{"field":"v","type":"quantitative","axis":{"orient":"right","values":[-0.5,-0.25,0,0.25,0.5],"labels":false,"title":null,"tickSize":3}}}},
{"data":{"values":[{"f":1.418,"v":0.36,"t":"E"}]},"mark":{"type":"text","fontSize":13,"fontWeight":"bold","font":"Liberation Sans"},"encoding":{"x":{"field":"f","type":"quantitative","axis":null},"y":{"field":"v","type":"quantitative","axis":null},"text":{"field":"t"}}}
]},
{"width":123,"height":85,"resolve":{"axis":{"x":"independent","y":"independent"}},"layer":[
{"data":{"name":"F"},"mark":{"type":"tick","orient":"horizontal","size":6,"thickness":3,"color":"#1f8f1f","cornerRadius":1.5,"clip":true},"encoding":{"x":{"field":"f","type":"quantitative","scale":{"domain":[0.51,1.48],"nice":false,"zero":false},"axis":{"orient":"bottom","values":[0.6,0.7,0.8,0.9,1.0,1.1,1.2,1.3,1.4],"labels":false,"title":null,"tickSize":4}},"y":{"field":"v","type":"quantitative","scale":{"domain":[-10,30],"nice":false,"zero":false},"axis":{"orient":"left","values":[-10,0,10,20,30],"labelExpr":"''+datum.value","title":null,"tickSize":5}}}},
{"data":{"name":"F"},"mark":{"type":"point","opacity":0},"encoding":{"x":{"field":"f","type":"quantitative","axis":{"orient":"top","values":[0.6,0.7,0.8,0.9,1.0,1.1,1.2,1.3,1.4],"labels":false,"title":null,"tickSize":3}},"y":{"field":"v","type":"quantitative","axis":{"orient":"right","values":[-10,0,10,20,30],"labels":false,"title":null,"tickSize":3}}}},
{"data":{"values":[{"f":1.419,"v":23.5,"t":"F"}]},"mark":{"type":"text","fontSize":13,"fontWeight":"bold","font":"Liberation Sans"},"encoding":{"x":{"field":"f","type":"quantitative","axis":null},"y":{"field":"v","type":"quantitative","axis":null},"text":{"field":"t"}}}
]},
{"width":120,"height":85,"resolve":{"axis":{"x":"independent","y":"independent"}},"layer":[
{"data":{"name":"Gr"},"mark":{"type":"line","color":"#a5342c","strokeWidth":1,"strokeDash":[3,2],"clip":true},"encoding":{"x":{"field":"f","type":"quantitative","scale":{"domain":[0.51,1.48],"nice":false,"zero":false},"axis":{"orient":"bottom","values":[0.6,0.7,0.8,0.9,1.0,1.1,1.2,1.3,1.4],"labels":false,"title":null,"tickSize":4}},"y":{"field":"v","type":"quantitative","scale":{"domain":[-13.9,25.6],"nice":false,"zero":false},"axis":{"orient":"left","values":[-10,0,10,20],"labelExpr":"''+datum.value","title":null,"tickSize":5}}}},
{"data":{"name":"Gb"},"mark":{"type":"line","color":"#1f1fd2","strokeWidth":1.3,"clip":true},"encoding":{"x":{"field":"f","type":"quantitative","axis":null},"y":{"field":"v","type":"quantitative","axis":null}}},
{"data":{"name":"Gb"},"mark":{"type":"point","opacity":0},"encoding":{"x":{"field":"f","type":"quantitative","axis":{"orient":"top","values":[0.6,0.7,0.8,0.9,1.0,1.1,1.2,1.3,1.4],"labels":false,"title":null,"tickSize":3}},"y":{"field":"v","type":"quantitative","axis":{"orient":"right","values":[-10,0,10,20],"labels":false,"title":null,"tickSize":3}}}},
{"data":{"values":[{"f":1.42,"v":20.5,"t":"G"}]},"mark":{"type":"text","fontSize":13,"fontWeight":"bold","font":"Liberation Sans"},"encoding":{"x":{"field":"f","type":"quantitative","axis":null},"y":{"field":"v","type":"quantitative","axis":null},"text":{"field":"t"}}},
{"data":{"values":[{"f":0.795,"v":18.9,"t":"39 dB SPL"}]},"mark":{"type":"text","fontSize":12,"fontWeight":"bold","font":"Liberation Sans"},"encoding":{"x":{"field":"f","type":"quantitative","axis":null},"y":{"field":"v","type":"quantitative","axis":null},"text":{"field":"t"}}}
]},
{"width":121,"height":85,"resolve":{"axis":{"x":"independent","y":"independent"}},"layer":[
{"data":{"name":"H"},"mark":{"type":"circle","size":10,"color":"#1818cc","opacity":1,"clip":true},"encoding":{"x":{"field":"f","type":"quantitative","scale":{"domain":[0.5,1.468],"nice":false,"zero":false},"axis":{"orient":"bottom","values":[0.6,0.7,0.8,0.9,1.0,1.1,1.2,1.3,1.4],"labels":false,"title":null,"tickSize":4}},"y":{"field":"v","type":"quantitative","scale":{"domain":[-0.5,0.5],"nice":false,"zero":false},"axis":{"orient":"left","values":[-0.5,-0.25,0,0.25,0.5],"labelExpr":"datum.value==0.5?'0.5':datum.value==0?'0.0':datum.value==-0.5?'-0.5':''","title":null,"tickSize":5}}}},
{"data":{"name":"H"},"mark":{"type":"point","opacity":0},"encoding":{"x":{"field":"f","type":"quantitative","axis":{"orient":"top","values":[0.6,0.7,0.8,0.9,1.0,1.1,1.2,1.3,1.4],"labels":false,"title":null,"tickSize":3}},"y":{"field":"v","type":"quantitative","axis":{"orient":"right","values":[-0.5,-0.25,0,0.25,0.5],"labels":false,"title":null,"tickSize":3}}}},
{"data":{"values":[{"f":1.418,"v":0.39,"t":"H"}]},"mark":{"type":"text","fontSize":13,"fontWeight":"bold","font":"Liberation Sans"},"encoding":{"x":{"field":"f","type":"quantitative","axis":null},"y":{"field":"v","type":"quantitative","axis":null},"text":{"field":"t"}}}
]},
{"width":123,"height":85,"resolve":{"axis":{"x":"independent","y":"independent"}},"layer":[
{"data":{"name":"I"},"mark":{"type":"tick","orient":"horizontal","size":6,"thickness":3,"color":"#1f8f1f","cornerRadius":1.5,"clip":true},"encoding":{"x":{"field":"f","type":"quantitative","scale":{"domain":[0.51,1.48],"nice":false,"zero":false},"axis":{"orient":"bottom","values":[0.6,0.7,0.8,0.9,1.0,1.1,1.2,1.3,1.4],"labels":false,"title":null,"tickSize":4}},"y":{"field":"v","type":"quantitative","scale":{"domain":[-10,30],"nice":false,"zero":false},"axis":{"orient":"left","values":[-10,0,10,20,30],"labelExpr":"''+datum.value","title":null,"tickSize":5}}}},
{"data":{"name":"I"},"mark":{"type":"point","opacity":0},"encoding":{"x":{"field":"f","type":"quantitative","axis":{"orient":"top","values":[0.6,0.7,0.8,0.9,1.0,1.1,1.2,1.3,1.4],"labels":false,"title":null,"tickSize":3}},"y":{"field":"v","type":"quantitative","axis":{"orient":"right","values":[-10,0,10,20,30],"labels":false,"title":null,"tickSize":3}}}},
{"data":{"values":[{"f":1.419,"v":24.8,"t":"I"}]},"mark":{"type":"text","fontSize":13,"fontWeight":"bold","font":"Liberation Sans"},"encoding":{"x":{"field":"f","type":"quantitative","axis":null},"y":{"field":"v","type":"quantitative","axis":null},"text":{"field":"t"}}}
]},
{"width":120,"height":85,"resolve":{"axis":{"x":"independent","y":"independent"}},"layer":[
{"data":{"name":"Jr"},"mark":{"type":"line","color":"#a5342c","strokeWidth":1,"strokeDash":[3,2],"clip":true},"encoding":{"x":{"field":"f","type":"quantitative","scale":{"domain":[0.51,1.48],"nice":false,"zero":false},"axis":{"orient":"bottom","values":[0.6,0.7,0.8,0.9,1.0,1.1,1.2,1.3,1.4],"labelExpr":"round(datum.value*10)%2==0 ? format(datum.value,'.1f') : ''","title":"freq. (kHz)","tickSize":4,"labelPadding":4,"titlePadding":5}},"y":{"field":"v","type":"quantitative","scale":{"domain":[-20,19.7],"nice":false,"zero":false},"axis":{"orient":"left","values":[-20,-10,0,10],"labelExpr":"''+datum.value","title":null,"tickSize":5}}}},
{"data":{"name":"Jb"},"mark":{"type":"line","color":"#1f1fd2","strokeWidth":1.3,"clip":true},"encoding":{"x":{"field":"f","type":"quantitative","axis":null},"y":{"field":"v","type":"quantitative","axis":null}}},
{"data":{"name":"Jb"},"mark":{"type":"point","opacity":0},"encoding":{"x":{"field":"f","type":"quantitative","axis":{"orient":"top","values":[0.6,0.7,0.8,0.9,1.0,1.1,1.2,1.3,1.4],"labels":false,"title":null,"tickSize":3}},"y":{"field":"v","type":"quantitative","axis":{"orient":"right","values":[-20,-10,0,10],"labels":false,"title":null,"tickSize":3}}}},
{"data":{"values":[{"f":1.42,"v":14.7,"t":"J"}]},"mark":{"type":"text","fontSize":13,"fontWeight":"bold","font":"Liberation Sans"},"encoding":{"x":{"field":"f","type":"quantitative","axis":null},"y":{"field":"v","type":"quantitative","axis":null},"text":{"field":"t"}}},
{"data":{"values":[{"f":0.806,"v":10.0,"t":"29 dB SPL"}]},"mark":{"type":"text","fontSize":12,"fontWeight":"bold","font":"Liberation Sans"},"encoding":{"x":{"field":"f","type":"quantitative","axis":null},"y":{"field":"v","type":"quantitative","axis":null},"text":{"field":"t"}}}
]},
{"width":121,"height":85,"resolve":{"axis":{"x":"independent","y":"independent"}},"layer":[
{"data":{"name":"K"},"mark":{"type":"circle","size":10,"color":"#1818cc","opacity":1,"clip":true},"encoding":{"x":{"field":"f","type":"quantitative","scale":{"domain":[0.5,1.468],"nice":false,"zero":false},"axis":{"orient":"bottom","values":[0.6,0.7,0.8,0.9,1.0,1.1,1.2,1.3,1.4],"labelExpr":"round(datum.value*10)%2==0 ? format(datum.value,'.1f') : ''","title":"freq. (kHz)","tickSize":4,"labelPadding":4,"titlePadding":5}},"y":{"field":"v","type":"quantitative","scale":{"domain":[-0.5,0.5],"nice":false,"zero":false},"axis":{"orient":"left","values":[-0.5,-0.25,0,0.25,0.5],"labelExpr":"datum.value==0.5?'0.5':datum.value==0?'0.0':datum.value==-0.5?'-0.5':''","title":null,"tickSize":5}}}},
{"data":{"name":"K"},"mark":{"type":"point","opacity":0},"encoding":{"x":{"field":"f","type":"quantitative","axis":{"orient":"top","values":[0.6,0.7,0.8,0.9,1.0,1.1,1.2,1.3,1.4],"labels":false,"title":null,"tickSize":3}},"y":{"field":"v","type":"quantitative","axis":{"orient":"right","values":[-0.5,-0.25,0,0.25,0.5],"labels":false,"title":null,"tickSize":3}}}},
{"data":{"values":[{"f":1.418,"v":0.37,"t":"K"}]},"mark":{"type":"text","fontSize":13,"fontWeight":"bold","font":"Liberation Sans"},"encoding":{"x":{"field":"f","type":"quantitative","axis":null},"y":{"field":"v","type":"quantitative","axis":null},"text":{"field":"t"}}}
]},
{"width":123,"height":85,"resolve":{"axis":{"x":"independent","y":"independent"}},"layer":[
{"data":{"name":"L"},"mark":{"type":"tick","orient":"horizontal","size":6,"thickness":3,"color":"#1f8f1f","cornerRadius":1.5,"clip":true},"encoding":{"x":{"field":"f","type":"quantitative","scale":{"domain":[0.51,1.48],"nice":false,"zero":false},"axis":{"orient":"bottom","values":[0.6,0.7,0.8,0.9,1.0,1.1,1.2,1.3,1.4],"labelExpr":"round(datum.value*10)%2==0 ? format(datum.value,'.1f') : ''","title":"freq. (kHz)","tickSize":4,"labelPadding":4,"titlePadding":5}},"y":{"field":"v","type":"quantitative","scale":{"domain":[-10,30],"nice":false,"zero":false},"axis":{"orient":"left","values":[-10,0,10,20,30],"labelExpr":"''+datum.value","title":null,"tickSize":5}}}},
{"data":{"name":"L"},"mark":{"type":"point","opacity":0},"encoding":{"x":{"field":"f","type":"quantitative","axis":{"orient":"top","values":[0.6,0.7,0.8,0.9,1.0,1.1,1.2,1.3,1.4],"labels":false,"title":null,"tickSize":3}},"y":{"field":"v","type":"quantitative","axis":{"orient":"right","values":[-10,0,10,20,30],"labels":false,"title":null,"tickSize":3}}}},
{"data":{"values":[{"f":1.419,"v":25.1,"t":"L"}]},"mark":{"type":"text","fontSize":13,"fontWeight":"bold","font":"Liberation Sans"},"encoding":{"x":{"field":"f","type":"quantitative","axis":null},"y":{"field":"v","type":"quantitative","axis":null},"text":{"field":"t"}}}
]}
],
"config":{
"font":"Liberation Sans",
"view":{"stroke":"#8a8a8a","strokeWidth":1},
"axis":{"labelFont":"Liberation Sans","labelFontSize":11,"labelFontWeight":"bold","labelColor":"#000000","tickColor":"#555555","tickWidth":1,"domain":false,"grid":false,"labelPadding":3,"labelFlush":false,"labelOverlap":false,"titleFont":"Liberation Sans","titleFontSize":13,"titleFontWeight":"bold","titleColor":"#000000"},
"title":{"font":"Liberation Sans","fontSize":15,"fontWeight":"bold","color":"#000000","offset":4}
}
}
